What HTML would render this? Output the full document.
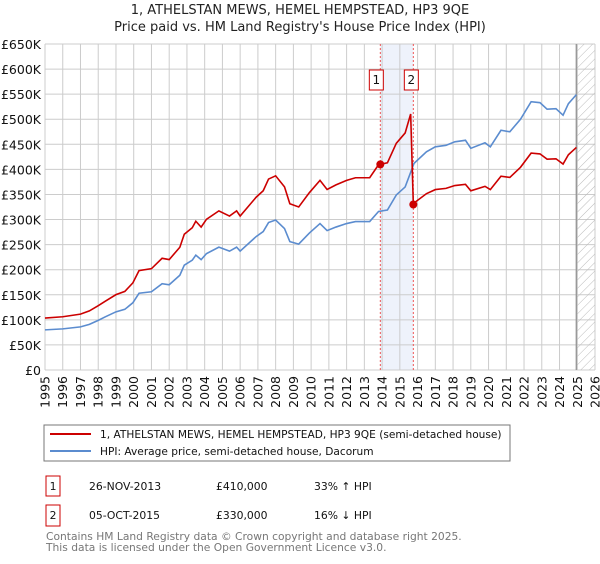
<!DOCTYPE html>
<html><head><meta charset="utf-8"><style>
body{margin:0;background:#fff;width:600px;height:560px;overflow:hidden;font-family:"DejaVu Sans","Liberation Sans",sans-serif}
</style></head><body>
<svg id="chart" width="600" height="560" xmlns="http://www.w3.org/2000/svg" font-family="DejaVu Sans, Liberation Sans, sans-serif">
<defs><pattern id="hatch" width="6" height="6" patternUnits="userSpaceOnUse" patternTransform="rotate(45)"><line x1="0" y1="0" x2="0" y2="6" stroke="#bbb" stroke-width="1"/></pattern></defs>
<text x="300" y="14" text-anchor="middle" font-size="13" fill="#222">1, ATHELSTAN MEWS, HEMEL HEMPSTEAD, HP3 9QE</text>
<text x="300" y="31" text-anchor="middle" font-size="13" fill="#222">Price paid vs. HM Land Registry's House Price Index (HPI)</text>
<g id="grid"></g><g id="marks"></g><g id="axes"></g>
<rect x="44" y="425" width="466" height="36" fill="#fff" stroke="#777"/>
<line x1="50" y1="434" x2="91" y2="434" stroke="#cc0000" stroke-width="2"/>
<text x="100" y="438" font-size="10.6" fill="#111">1, ATHELSTAN MEWS, HEMEL HEMPSTEAD, HP3 9QE (semi-detached house)</text>
<line x1="50" y1="451" x2="91" y2="451" stroke="#5b8ccf" stroke-width="2"/>
<text x="100" y="455" font-size="10.6" fill="#111">HPI: Average price, semi-detached house, Dacorum</text>
<g font-size="10.8" fill="#111">
<rect x="46" y="476" width="14" height="20" fill="#fff" stroke="#cc0000"/>
<text x="53" y="490" text-anchor="middle">1</text>
<text x="89" y="490">26-NOV-2013</text>
<text x="216" y="490">£410,000</text>
<text x="314" y="490">33% ↑ HPI</text>
<rect x="46" y="505" width="14" height="21" fill="#fff" stroke="#cc0000"/>
<text x="53" y="519" text-anchor="middle">2</text>
<text x="89" y="519">05-OCT-2015</text>
<text x="216" y="519">£330,000</text>
<text x="314" y="519">16% ↓ HPI</text>
</g>
<text x="46" y="540" font-size="10.7" fill="#777">Contains HM Land Registry data © Crown copyright and database right 2025.</text>
<text x="46" y="551" font-size="10.7" fill="#777">This data is licensed under the Open Government Licence v3.0.</text>
</svg>
<script>
const yTicks=[0,50,100,150,200,250,300,350,400,450,500,550,600,650];
const yTickLabels=["£0","£50K","£100K","£150K","£200K","£250K","£300K","£350K","£400K","£450K","£500K","£550K","£600K","£650K"];
const xYears=[1995,1996,1997,1998,1999,2000,2001,2002,2003,2004,2005,2006,2007,2008,2009,2010,2011,2012,2013,2014,2015,2016,2017,2018,2019,2020,2021,2022,2023,2024,2025,2026];
const hpiDates=[1995.0,1996.0,1997.0,1997.5,1998.0,1998.4,1999.0,1999.5,1999.95,2000.3,2001.0,2001.6,2002.0,2002.6,2002.85,2003.3,2003.5,2003.8,2004.1,2004.8,2005.4,2005.8,2006.0,2006.9,2007.3,2007.6,2008.0,2008.5,2008.8,2009.3,2009.9,2010.5,2010.9,2011.4,2012.0,2012.5,2013.3,2013.8,2014.3,2014.8,2015.3,2015.8,2016.5,2017.0,2017.6,2018.1,2018.7,2019.0,2019.8,2020.1,2020.7,2021.2,2021.8,2022.4,2022.9,2023.3,2023.8,2024.2,2024.5,2024.95];
const hpiValues=[80,82,86,91,99,106,116,121,134,153,156,172,170,189,209,219,229,220,232,245,237,245,237,266,276,294,299,282,256,251,273,292,278,285,292,296,296,316,319,349,365,412,435,445,448,455,458,442,453,445,478,475,500,535,533,520,521,508,531,549];
const saleDates=[2013.9,2015.76];
const salePrices=[410,330];
const saleLabels=["1","2"];
const X0=45,X1=595,Y0=370,Y1=44;
const x=d=>X0+(d-1995)/(2026-1995)*(X1-X0);
const y=v=>Y0-(v/650)*(Y0-Y1);
const NS="http://www.w3.org/2000/svg";
function mk(t,a,p){const e=document.createElementNS(NS,t);for(const k in a)e.setAttribute(k,a[k]);p.appendChild(e);return e;}
function hpiAt(d){for(let i=0;i<hpiDates.length-1;i++){if(d>=hpiDates[i]&&d<=hpiDates[i+1]){const t=(d-hpiDates[i])/(hpiDates[i+1]-hpiDates[i]);return hpiValues[i]+t*(hpiValues[i+1]-hpiValues[i]);}}return hpiValues[hpiValues.length-1];}
const grid=document.getElementById('grid'),marks=document.getElementById('marks'),axes=document.getElementById('axes');
let sh=mk('rect',{x:x(saleDates[0]),y:Y1,width:x(saleDates[1])-x(saleDates[0]),height:Y0-Y1,fill:'#eef2fb'},grid);


yTicks.forEach((v,i)=>{
 let l=mk('line',{x1:X0,x2:X1,y1:y(v),y2:y(v),stroke:'#ccc'},grid);
 
 
 let t=mk('text',{x:41,y:y(v)+5,'text-anchor':'end','font-size':12.5,fill:'#111'},axes);
 t.textContent=yTickLabels[i];
 
 
});
xYears.forEach(yr=>{
 let l=mk('line',{x1:x(yr),x2:x(yr),y1:Y1,y2:Y0,stroke:'#ccc'},grid);
 
 
 let t=mk('text',{x:0,y:0,'text-anchor':'end','font-size':12.5,fill:'#111',transform:`translate(${x(yr)+4.5},${Y0+6}) rotate(-90)`},axes);
 t.textContent=yr;
 
 
});
const lastD=hpiDates[hpiDates.length-1];
let hz=mk('rect',{x:x(lastD)+1,y:Y1,width:X1-x(lastD)-1,height:Y0-Y1,fill:'url(#hatch)'},grid);


let hl=mk('line',{x1:x(lastD),x2:x(lastD),y1:Y1,y2:Y0,stroke:'#999','stroke-width':1.5},grid);


saleDates.forEach((d,i)=>{
 let l=mk('line',{x1:x(d),x2:x(d),y1:Y1,y2:Y0,stroke:'#e55','stroke-dasharray':'2,2','stroke-width':1},grid);
 
 
});
let hp=mk('polyline',{points:hpiDates.map((d,i)=>x(d)+','+y(hpiValues[i])).join(' '),fill:'none',stroke:'#5b8ccf','stroke-width':1.6},marks);


let pts=[];
const r0=salePrices[0]/hpiAt(saleDates[0]),r1=salePrices[1]/hpiAt(saleDates[1]);
hpiDates.forEach((d,i)=>{
 if(d<saleDates[1]) pts.push(x(d)+','+y(hpiValues[i]*r0));
});
pts.push(x(saleDates[1]-0.15)+','+y(hpiAt(saleDates[1]-0.15)*r0));
pts.push(x(saleDates[1])+','+y(salePrices[1]));
hpiDates.forEach((d,i)=>{ if(d>saleDates[1]) pts.push(x(d)+','+y(hpiValues[i]*r1)); });
let pl=mk('polyline',{points:pts.join(' '),fill:'none',stroke:'#cc0000','stroke-width':1.6},marks);


saleDates.forEach((d,i)=>{
 let c=mk('circle',{cx:x(d),cy:y(salePrices[i]),r:4,fill:'#cc0000'},marks);
 
 
 let bx=x(d)-(i==0?11:9);
 let b=mk('rect',{x:bx,y:70,width:14,height:20,fill:'#fff',stroke:'#cc0000'},marks);
 
 
 let t=mk('text',{x:bx+7,y:84,'text-anchor':'middle','font-size':12,fill:'#111'},marks);
 t.textContent=saleLabels[i];
 
 
});
</script>
</body></html>
